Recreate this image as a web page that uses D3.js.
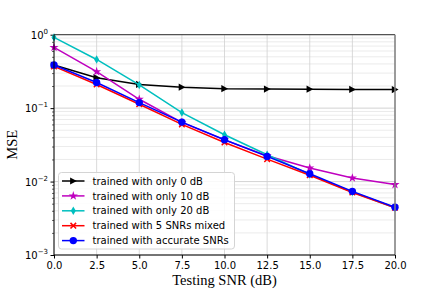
<!DOCTYPE html>
<html><head><meta charset="utf-8">
<script src="https://cdn.jsdelivr.net/npm/d3@7"></script>
<style>body{margin:0;background:#fff}svg{display:block}</style>
</head><body><svg id="c" width="439" height="292"></svg>
<script>
const snr = [0, 2.5, 5, 7.5, 10, 12.5, 15, 17.5, 20];
const only0 = [0.387, 0.26, 0.21, 0.193, 0.184, 0.182, 0.181, 0.18, 0.179];
const only10 = [0.67, 0.314, 0.132, 0.064, 0.037, 0.0225, 0.0153, 0.0112, 0.0091];
const only20 = [0.92, 0.46, 0.207, 0.087, 0.0434, 0.0232, 0.0125, 0.0072, 0.0044];
const mixed5 = [0.37, 0.21, 0.113, 0.06, 0.034, 0.0202, 0.0122, 0.0071, 0.0044];
const accurate = [0.387, 0.223, 0.119, 0.0645, 0.0371, 0.022, 0.0128, 0.00736, 0.00446];
const seriesNames = ["trained with only 0 dB","trained with only 10 dB","trained with only 20 dB","trained with 5 SNRs mixed","trained with accurate SNRs"];
const seriesColors = ["#000000","#bf00bf","#00bfbf","#ff0000","#0000ff"];
const seriesMarkers = [">","*","d","x","o"];
const seriesData = [only0, only10, only20, mixed5, accurate];
const xTicks = [0, 2.5, 5, 7.5, 10, 12.5, 15, 17.5, 20];
const yTicks = [1e-3, 1e-2, 1e-1, 1];
const yTickExps = ["−3","−2","−1","0"];

const svg = d3.select("#c");
const L = 54, R = 395, T = 34.7, B = 255;
const x = d3.scaleLinear().domain([0, 20]).range([L, R]);
const y = d3.scaleLog().domain([1e-3, 1]).range([B, T]);

// minor grid
const minors = [];
for (let e = -3; e < 0; e++) for (let k = 2; k <= 9; k++) minors.push(k * Math.pow(10, e));
const g = svg.append("g");
g.selectAll(".mn").data(minors).enter().append("line")
  .attr("x1", L).attr("x2", R).attr("y1", d => y(d)).attr("y2", d => y(d))
  .attr("stroke", "#e6e6e6").attr("stroke-width", 0.8);
g.selectAll(".mj").data(yTicks).enter().append("line")
  .attr("x1", L).attr("x2", R).attr("y1", d => y(d)).attr("y2", d => y(d))
  .attr("stroke", "#c8c8c8").attr("stroke-width", 0.8);
g.selectAll(".vx").data(xTicks).enter().append("line")
  .attr("x1", d => x(d)).attr("x2", d => x(d)).attr("y1", T).attr("y2", B)
  .attr("stroke", "#d0d0d0").attr("stroke-width", 0.8);

// axes
const xAxis = d3.axisBottom(x).tickValues(xTicks).tickFormat(d3.format(".1f")).tickSize(3.5).tickPadding(3);
const gx = svg.append("g").attr("transform", `translate(0,${B})`).call(xAxis);
gx.select(".domain").remove();
gx.selectAll("text").attr("font-family", "DejaVu Sans").attr("font-size", 10).attr("fill", "#000");
gx.selectAll("line").attr("stroke", "#000");

const yAxis = d3.axisLeft(y).tickValues(yTicks).tickFormat("").tickSize(3.5);
const gy = svg.append("g").attr("transform", `translate(${L},0)`).call(yAxis);
gy.select(".domain").remove();
gy.selectAll("line").attr("stroke", "#000");
const yMinorAxis = d3.axisLeft(y).tickValues(minors).tickFormat("").tickSize(2);
const gym = svg.append("g").attr("transform", `translate(${L},0)`).call(yMinorAxis);
gym.select(".domain").remove();
gym.selectAll("line").attr("stroke", "#000").attr("stroke-width", 0.6);

yTicks.forEach((v, i) => {
  const t = svg.append("text").attr("x", L - 6).attr("y", y(v) + 4)
    .attr("text-anchor", "end").attr("font-family", "DejaVu Sans").attr("font-size", 10).attr("fill", "#000");
  t.append("tspan").text("10");
  t.append("tspan").attr("dy", -5).attr("font-size", 7).text(yTickExps[i]);
});

// series
const line = d3.line().x((d, i) => x(snr[i])).y(d => y(d));
const clip = svg.append("clipPath").attr("id", "clp").append("rect")
  .attr("x", L - 6).attr("y", T - 6).attr("width", R - L + 12).attr("height", B - T + 12);

function marker(sel, type, color, cx, cy) {
  if (type === ">") {
    sel.append("path").attr("d", `M${cx-3.2},${cy-3.6}L${cx+3.6},${cy}L${cx-3.2},${cy+3.6}Z`).attr("fill", color);
  } else if (type === "*") {
    sel.append("path").attr("d", d3.symbol().type(d3.symbolStar).size(26)()).attr("transform", `translate(${cx},${cy})`).attr("fill", color);
  } else if (type === "d") {
    sel.append("path").attr("d", `M${cx},${cy-4.2}L${cx+2.5},${cy}L${cx},${cy+4.2}L${cx-2.5},${cy}Z`).attr("fill", color);
  } else if (type === "x") {
    sel.append("path").attr("d", `M${cx-2.8},${cy-2.8}L${cx+2.8},${cy+2.8}M${cx-2.8},${cy+2.8}L${cx+2.8},${cy-2.8}`).attr("stroke", color).attr("stroke-width", 1.5);
  } else {
    sel.append("circle").attr("cx", cx).attr("cy", cy).attr("r", 3.7).attr("fill", color);
  }
}
const sg = svg.append("g").attr("clip-path", "url(#clp)");
seriesData.forEach((data, k) => {
  sg.append("path").datum(data).attr("d", line)
    .attr("fill", "none").attr("stroke", seriesColors[k]).attr("stroke-width", 1.5);
  data.forEach((v, i) => marker(sg, seriesMarkers[k], seriesColors[k], x(snr[i]), y(v)));
});

// spines
svg.append("line").attr("x1", L).attr("x2", R).attr("y1", T).attr("y2", T).attr("stroke", "#333").attr("stroke-width", 1);
svg.append("line").attr("x1", R).attr("x2", R).attr("y1", T).attr("y2", B).attr("stroke", "#808080").attr("stroke-width", 1.5);
svg.append("line").attr("x1", L).attr("x2", L).attr("y1", T).attr("y2", B).attr("stroke", "#000").attr("stroke-width", 1);
svg.append("line").attr("x1", L).attr("x2", R).attr("y1", B).attr("y2", B).attr("stroke", "#000").attr("stroke-width", 1);

// legend
const lg = svg.append("g");
lg.append("rect").attr("x", 58.5).attr("y", 172.5).attr("width", 176).attr("height", 76.5)
  .attr("rx", 3).attr("fill", "rgba(255,255,255,0.85)").attr("stroke", "#d4d4d4").attr("stroke-width", 1);
seriesNames.forEach((n, k) => {
  const yy = 181 + k * 14.9;
  lg.append("line").attr("x1", 62).attr("x2", 84.5).attr("y1", yy).attr("y2", yy)
    .attr("stroke", seriesColors[k]).attr("stroke-width", 1.5);
  marker(lg, seriesMarkers[k], seriesColors[k], 73.3, yy);
  lg.append("text").attr("x", 92.5).attr("y", yy + 3.6).attr("font-family", "DejaVu Sans")
    .attr("font-size", 10).attr("fill", "#000").text(n);
});

// axis labels
svg.append("text").attr("x", (L + R) / 2).attr("y", 285).attr("text-anchor", "middle")
  .attr("font-family", "Liberation Serif").attr("font-size", 14.5).attr("fill", "#000").text("Testing SNR (dB)");
svg.append("text").attr("transform", `translate(17,${(T + B) / 2}) rotate(-90)`).attr("text-anchor", "middle")
  .attr("font-family", "Liberation Serif").attr("font-size", 14.5).attr("fill", "#000").text("MSE");
</script></body></html>
